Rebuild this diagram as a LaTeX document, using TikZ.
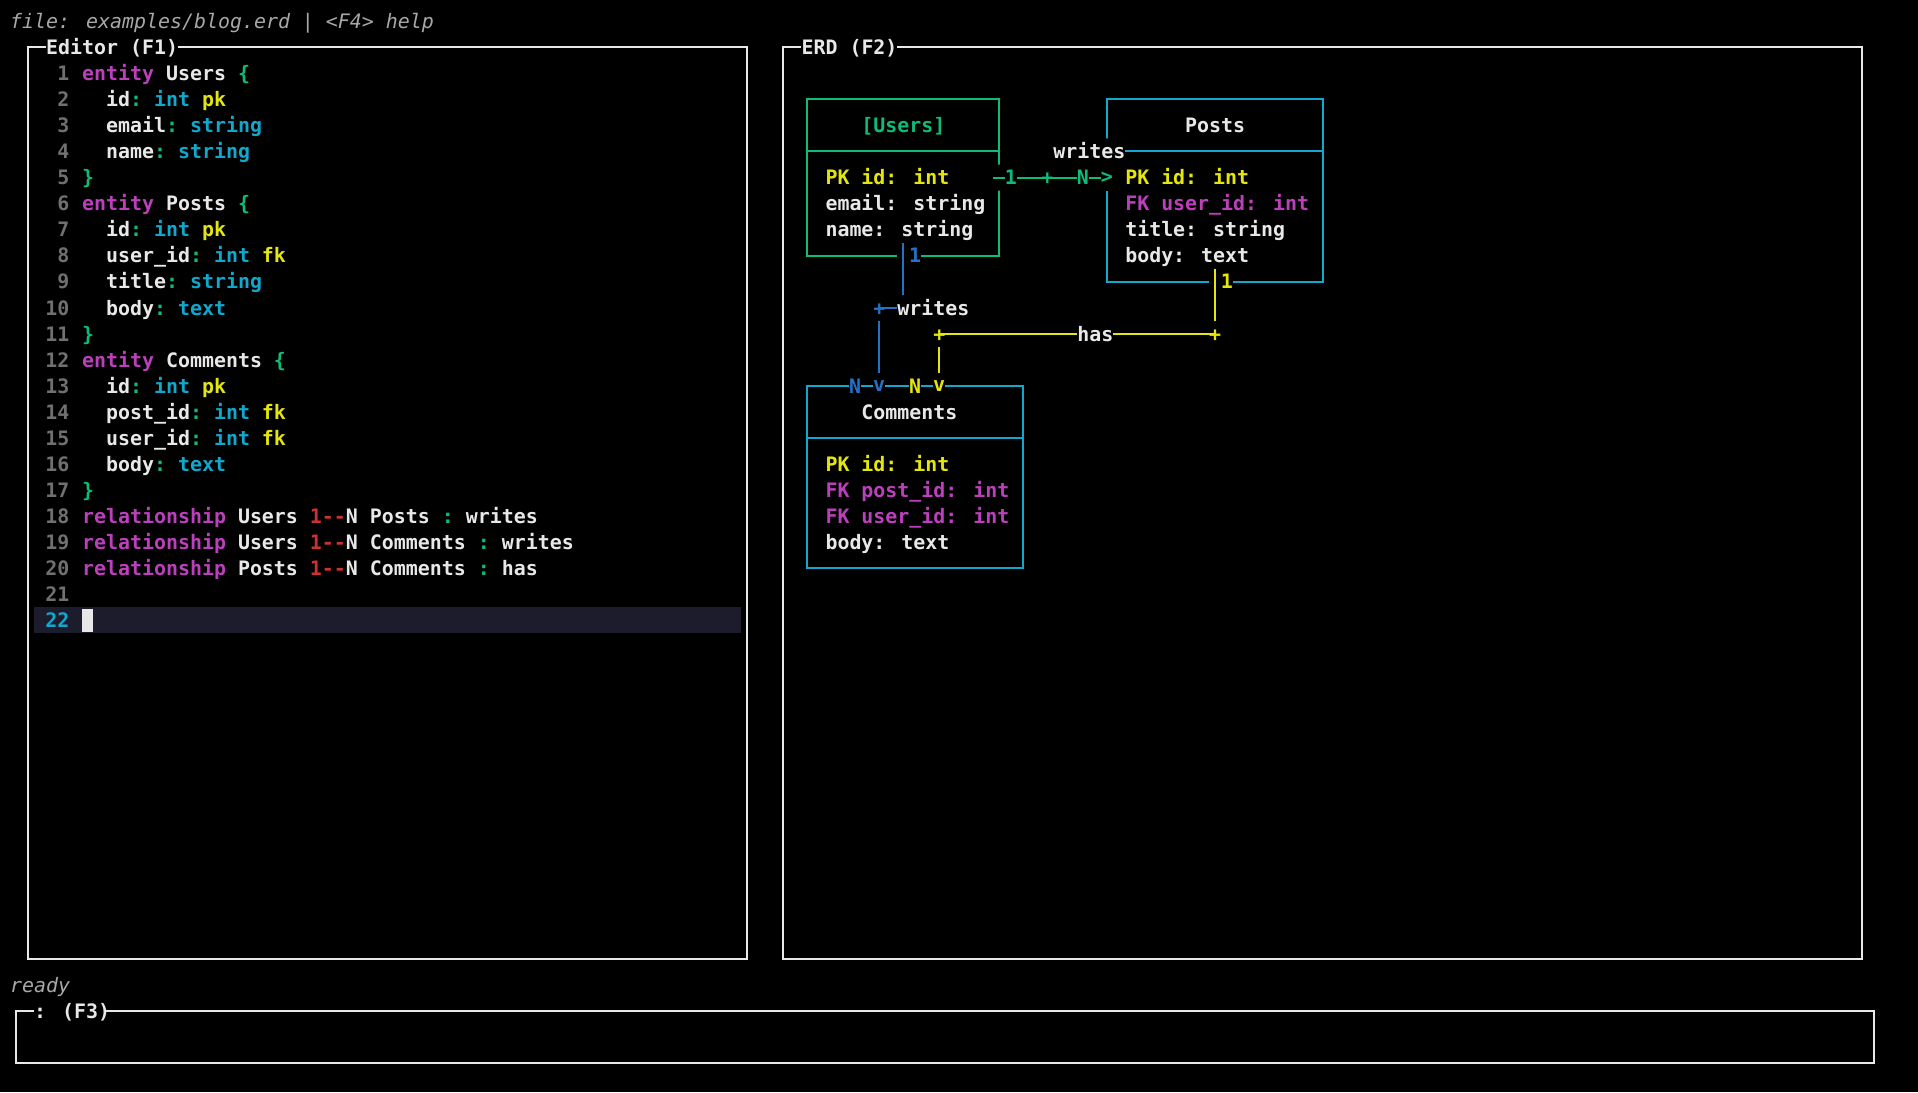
\documentclass[tikz,border=0pt]{standalone}
\usepackage{fontspec}
\newfontfamily\mono{DejaVu Sans Mono}[Ligatures=NoCommon]
\definecolor{bg}{HTML}{000000}
\definecolor{fg}{HTML}{E8E8E8}
\definecolor{gry}{HTML}{707070}
\definecolor{ital}{HTML}{A8A8A8}
\definecolor{mag}{HTML}{BC3FBC}
\definecolor{cya}{HTML}{11A8CD}
\definecolor{yel}{HTML}{E5E510}
\definecolor{grn}{HTML}{0DBC79}
\definecolor{red}{HTML}{CD3131}
\definecolor{blu}{HTML}{2472C8}
\definecolor{hl}{HTML}{1C1C2C}
\newcounter{tn}
\newcommand\T[4]{\stepcounter{tn}\node[txt,text=#3] (t\arabic{tn}) at (#1,#2+0.28) {#4};}
\newcommand\C[4]{\stepcounter{tn}\node[cell,text=#3] (c\arabic{tn}) at (#1+0.5,#2) {#4};}
\newcommand\N[2]{\stepcounter{tn}\node[num,text=gry] (n\arabic{tn}) at (5,#1+0.28) {#2};}
\begin{document}
\begin{tikzpicture}[x=5.995pt,y=-13.02pt,
  txt/.style={anchor=base west,inner sep=0pt,font=\mono\bfseries\fontsize{9.96}{12}\selectfont},
  num/.style={anchor=base east,inner sep=0pt,font=\mono\bfseries\fontsize{9.96}{12}\selectfont},
  cell/.style={inner sep=0pt,minimum width=5.995pt,minimum height=13.02pt,fill=black,font=\mono\bfseries\fontsize{9.96}{12}\selectfont},
  pan/.style={draw=fg,line width=1pt},
  blank/.style={fill=black,draw=none},
  ln/.style={line width=1pt}]
\fill[black] (-0.817,-0.818) rectangle (159.15,41.12);
\useasboundingbox (-0.817,-0.818) rectangle (159.15,41.12);
% header
\node[txt,text=ital,font=\mono\itshape\fontsize{9.96}{12}\selectfont] (hdr) at (0,0.28) {file: examples/blog.erd | <F4> help};
\node[txt,text=ital,font=\mono\itshape\fontsize{9.96}{12}\selectfont] (ready) at (0,37.28) {ready};
% panels
\draw[pan] (1.5,1) rectangle (61.5,36);
\fill[black] (3,0.5) rectangle (14,1.5);
\node[txt,text=fg] (ed) at (3,1.28) {Editor (F1)};
\draw[pan] (64.5,1) rectangle (154.5,36);
\fill[black] (66,0.5) rectangle (74,1.5);
\node[txt,text=fg] (erd) at (66,1.28) {ERD (F2)};
\draw[pan] (0.5,38) rectangle (155.5,40);
\fill[black] (2,37.5) rectangle (8,38.5);
\node[txt,text=fg] (cmd) at (2,38.28) {: (F3)};
% editor
\fill[hl] (2,22.5) rectangle (61,23.5);
\fill[fg] (6.05,22.55) rectangle (6.95,23.45);
\N{2}{1}\T{6}{2}{mag}{entity}\T{13}{2}{fg}{Users}\T{19}{2}{grn}{\{}
\N{3}{2}\T{8}{3}{fg}{id}\T{10}{3}{grn}{:}\T{12}{3}{cya}{int}\T{16}{3}{yel}{pk}
\N{4}{3}\T{8}{4}{fg}{email}\T{13}{4}{grn}{:}\T{15}{4}{cya}{string}
\N{5}{4}\T{8}{5}{fg}{name}\T{12}{5}{grn}{:}\T{14}{5}{cya}{string}
\N{6}{5}\T{6}{6}{grn}{\}}
\N{7}{6}\T{6}{7}{mag}{entity}\T{13}{7}{fg}{Posts}\T{19}{7}{grn}{\{}
\N{8}{7}\T{8}{8}{fg}{id}\T{10}{8}{grn}{:}\T{12}{8}{cya}{int}\T{16}{8}{yel}{pk}
\N{9}{8}\T{8}{9}{fg}{user\_id}\T{15}{9}{grn}{:}\T{17}{9}{cya}{int}\T{21}{9}{yel}{fk}
\N{10}{9}\T{8}{10}{fg}{title}\T{13}{10}{grn}{:}\T{15}{10}{cya}{string}
\N{11}{10}\T{8}{11}{fg}{body}\T{12}{11}{grn}{:}\T{14}{11}{cya}{text}
\N{12}{11}\T{6}{12}{grn}{\}}
\N{13}{12}\T{6}{13}{mag}{entity}\T{13}{13}{fg}{Comments}\T{22}{13}{grn}{\{}
\N{14}{13}\T{8}{14}{fg}{id}\T{10}{14}{grn}{:}\T{12}{14}{cya}{int}\T{16}{14}{yel}{pk}
\N{15}{14}\T{8}{15}{fg}{post\_id}\T{15}{15}{grn}{:}\T{17}{15}{cya}{int}\T{21}{15}{yel}{fk}
\N{16}{15}\T{8}{16}{fg}{user\_id}\T{15}{16}{grn}{:}\T{17}{16}{cya}{int}\T{21}{16}{yel}{fk}
\N{17}{16}\T{8}{17}{fg}{body}\T{12}{17}{grn}{:}\T{14}{17}{cya}{text}
\N{18}{17}\T{6}{18}{grn}{\}}
\N{19}{18}\T{6}{19}{mag}{relationship}\T{19}{19}{fg}{Users}\T{25}{19}{red}{1-{}-}\T{28}{19}{fg}{N}\T{30}{19}{fg}{Posts}\T{36}{19}{grn}{:}\T{38}{19}{fg}{writes}
\N{20}{19}\T{6}{20}{mag}{relationship}\T{19}{20}{fg}{Users}\T{25}{20}{red}{1-{}-}\T{28}{20}{fg}{N}\T{30}{20}{fg}{Comments}\T{39}{20}{grn}{:}\T{41}{20}{fg}{writes}
\N{21}{20}\T{6}{21}{mag}{relationship}\T{19}{21}{fg}{Posts}\T{25}{21}{red}{1-{}-}\T{28}{21}{fg}{N}\T{30}{21}{fg}{Comments}\T{39}{21}{grn}{:}\T{41}{21}{fg}{has}
\N{22}{21}
\node[num,text=cya] (n22) at (5,23.28) {22};
% ERD entities
\draw[ln,draw=grn] (66.5,3) rectangle (82.5,9) (66.5,5) -- (82.5,5);
\T{71}{4}{grn}{[Users]}
\T{68}{6}{yel}{PK id: int}\T{68}{7}{fg}{email: string}\T{68}{8}{fg}{name: string}
\draw[ln,draw=cya] (91.5,3) rectangle (109.5,10) (91.5,5) -- (109.5,5);
\T{98}{4}{fg}{Posts}
\T{93}{6}{yel}{PK id: int}\T{93}{7}{mag}{FK user\_id: int}\T{93}{8}{fg}{title: string}\T{93}{9}{fg}{body: text}
\draw[ln,draw=cya] (66.5,14) rectangle (84.5,21) (66.5,16) -- (84.5,16);
\T{71}{15}{fg}{Comments}
\T{68}{17}{yel}{PK id: int}\T{68}{18}{mag}{FK post\_id: int}\T{68}{19}{mag}{FK user\_id: int}\T{68}{20}{fg}{body: text}
% Users -> Posts : writes
\fill[black] (82,5.5) rectangle (92,6.5) (87,4.5) rectangle (93,5.5);
\coordinate (g0) at (82,6); \coordinate (g1) at (91,6);
\draw[ln,draw=grn] (g0) -- (g1);
\C{83}{6}{grn}{1}\C{89}{6}{grn}{N}\C{91}{6}{grn}{>}
\node[txt,text=grn] (gp) at (86,6.28) {+};
\T{87}{5}{fg}{writes}
% Users -> Comments : writes
\fill[black] (74,8.5) rectangle (76,9.5);
\coordinate (b0) at (74.5,8.5); \coordinate (b1) at (74.5,10.5);
\draw[ln,draw=blu] (b0) -- (b1);
\C{75}{9}{blu}{1}
\coordinate (b2) at (72.5,11); \coordinate (b3) at (74,11);
\draw[ln,draw=blu] (b2) -- (b3);
\node[txt,text=blu] (bp) at (72,11.28) {+};
\T{74}{11}{fg}{writes}
\coordinate (b4) at (72.5,11.5); \coordinate (b5) at (72.5,13.5);
\draw[ln,draw=blu] (b4) -- (b5);
\C{70}{14}{blu}{N}\C{72}{14}{blu}{v}
% Posts -> Comments : has
\fill[black] (100,9.5) rectangle (102,10.5);
\coordinate (y0) at (100.5,9.5); \coordinate (y1) at (100.5,11.5);
\draw[ln,draw=yel] (y0) -- (y1);
\C{101}{10}{yel}{1}
\coordinate (y2) at (77.5,12); \coordinate (y3) at (100.5,12);
\draw[ln,draw=yel] (y2) -- (y3);
\node[txt,text=yel] (yp1) at (77,12.28) {+};
\node[txt,text=yel] (yp2) at (100,12.28) {+};
\fill[black] (89,11.5) rectangle (92,12.5);
\T{89}{12}{fg}{has}
\coordinate (y4) at (77.5,12.5); \coordinate (y5) at (77.5,13.5);
\draw[ln,draw=yel] (y4) -- (y5);
\C{75}{14}{yel}{N}\C{77}{14}{yel}{v}
\end{tikzpicture}
\end{document}
